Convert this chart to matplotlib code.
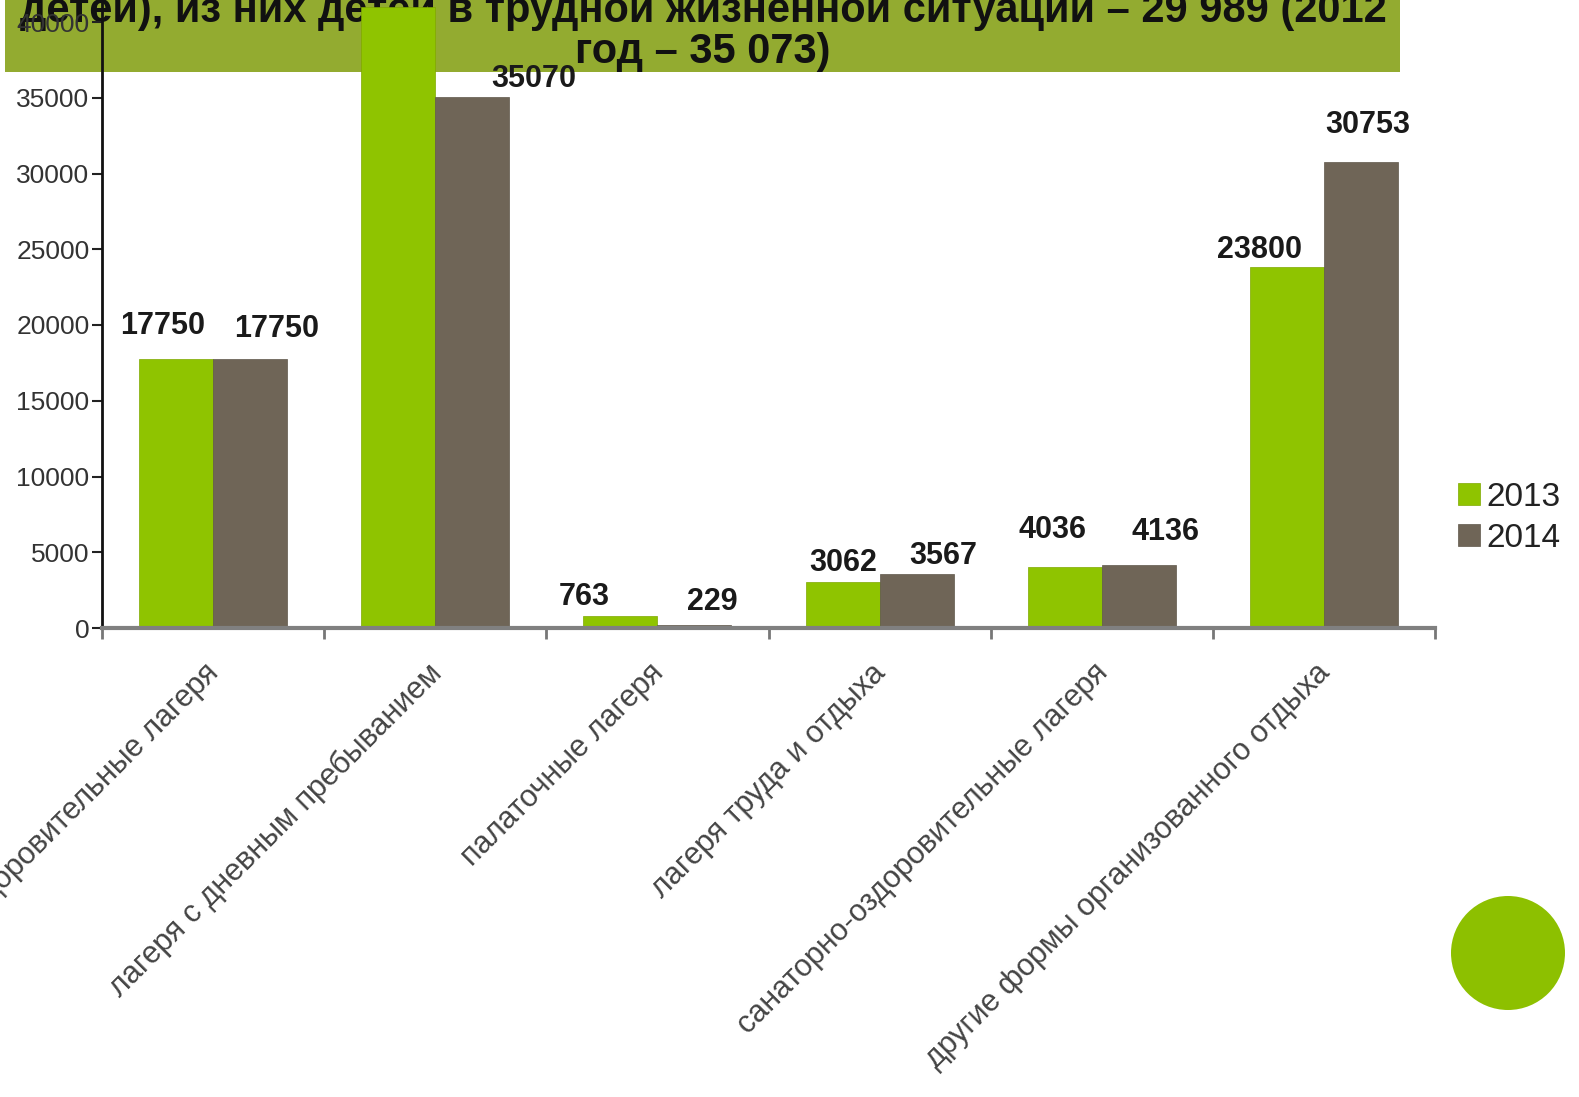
import matplotlib
matplotlib.use('Agg')
import matplotlib.pyplot as plt
import numpy as np
from matplotlib.patches import Rectangle, Ellipse

plt.rcParams['font.family'] = ['Liberation Sans', 'DejaVu Sans']

# Данные
categories = ['загородные оздоровительные лагеря',
              'лагеря с дневным пребыванием',
              'палаточные лагеря',
              'лагеря труда и отдыха',
              'санаторно-оздоровительные лагеря',
              'другие формы организованного отдыха']
years = ['2013', '2014']
values_2013 = [17750, 41000, 763, 3062, 4036, 23800]
values_2014 = [17750, 35070, 229, 3567, 4136, 30753]
yticks = [0, 5000, 10000, 15000, 20000, 25000, 30000, 35000, 40000]
title_line1 = 'детей), из них детей в трудной жизненной ситуации – 29 989 (2012'
title_line2 = 'год – 35 073)'

# сдвиги подписей значений (пиксели)
offs_2013 = [(-13, 33), (0, 30), (-36, 19), (1, 19), (-12, 37), (-27, 17)]
offs_2014 = [(27, 30), (61, 18), (18, 23), (27, 18), (27, 33), (7, 37)]

c2013 = '#8fc400'
c2014 = '#6f6557'

W, H = 1579, 1097
fig = plt.figure(figsize=(W / 100, H / 100), dpi=100)

# зелёная плашка заголовка
fig.patches.append(Rectangle((5 / W, 1 - 72 / H), 1395 / W, 72 / H, transform=fig.transFigure,
                             facecolor='#93ab30', edgecolor='none', zorder=-2))
fig.text(703 / W, 1 - 22 / H, title_line1, ha='center', va='baseline', fontsize=30,
         fontweight='bold', color='#111111', zorder=-1)
fig.text(703 / W, 1 - 63 / H, title_line2, ha='center', va='baseline', fontsize=30,
         fontweight='bold', color='#111111', zorder=-1)
fig.patches.append(Ellipse((1508 / W, 1 - 953 / H), 114 / W, 114 / H, transform=fig.transFigure,
                           facecolor='#8dc000', edgecolor='none'))

ymax = 45000
px_per_unit = (628 - 22) / 40000
ax = fig.add_axes([102 / W, (H - 628) / H, (1435 - 102) / W, ymax * px_per_unit / H])
ax.patch.set_alpha(0)

x = np.arange(len(categories))
w = 1 / 3
b1 = ax.bar(x - w / 2, values_2013, w, color=c2013, label=years[0], edgecolor='#7fa800', linewidth=0.5)
b2 = ax.bar(x + w / 2, values_2014, w, color=c2014, label=years[1], edgecolor='#5f574b', linewidth=0.5)

for i in range(len(x)):
    ax.annotate(str(values_2013[i]), (x[i] - w / 2, values_2013[i]), xytext=offs_2013[i],
                textcoords='offset pixels', ha='center', va='center', fontsize=22,
                fontweight='bold', color='#1a1a1a', annotation_clip=False)
    ax.annotate(str(values_2014[i]), (x[i] + w / 2, values_2014[i]), xytext=offs_2014[i],
                textcoords='offset pixels', ha='center', va='center', fontsize=22,
                fontweight='bold', color='#1a1a1a', annotation_clip=False)
    ax.annotate(categories[i], (x[i] - 0.04, 0), xycoords=('data', 'axes fraction'),
                xytext=(0, -30), textcoords='offset pixels', rotation=45,
                rotation_mode='anchor', ha='right', va='top', fontsize=22,
                color='#444444', annotation_clip=False)

ax.set_xlim(-0.5, len(categories) - 0.5)
ax.set_ylim(0, ymax)
ax.set_yticks(yticks)
ax.set_yticklabels([str(t) for t in yticks], fontsize=19, color='#333333')
ax.set_xticks(np.arange(len(categories) + 1) - 0.5)
ax.set_xticklabels([])
ax.tick_params(axis='y', length=7, width=1.5, color='#222222', pad=2)
ax.tick_params(axis='x', length=8, width=2, color='#777777', direction='out')

for s in ['top', 'right']:
    ax.spines[s].set_visible(False)
ax.spines['left'].set_color('#111111')
ax.spines['left'].set_linewidth(2)
ax.spines['bottom'].set_color('#808080')
ax.spines['bottom'].set_linewidth(3)

leg = fig.legend(handles=[b1, b2], labels=years, loc='center left',
                 bbox_to_anchor=(1458 / W, 1 - 518 / H), frameon=False, fontsize=24,
                 handlelength=0.65, handleheight=0.65, handletextpad=0.2, labelspacing=0.3,
                 borderpad=0, borderaxespad=0)
for t in leg.get_texts():
    t.set_color('#222222')

fig.savefig('out.png', dpi=100)
